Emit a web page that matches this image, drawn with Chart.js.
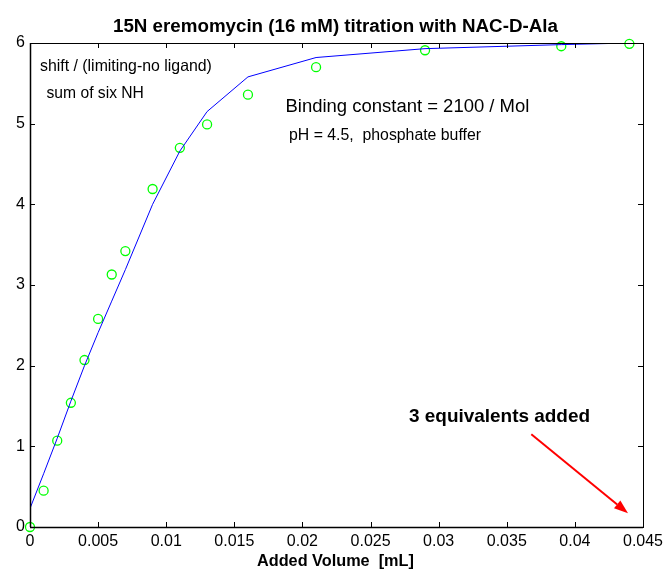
<!DOCTYPE html>
<html>
<head>
<meta charset="utf-8">
<script src="https://cdn.jsdelivr.net/npm/chart.js@4.4.0/dist/chart.umd.min.js"></script>
<style>
  body { margin: 0; background: #fff; }
  #wrap { width: 665px; height: 569px; }
</style>
</head>
<body>
<div id="wrap"><canvas id="titration"></canvas></div>
<script>
// measured points (added volume in mL vs normalised shift)
const volumes = [0, 0.001, 0.002, 0.003, 0.004, 0.005, 0.006, 0.007, 0.009, 0.011, 0.013, 0.016, 0.021, 0.029, 0.039, 0.044];
const measured = [0, 0.45, 1.07, 1.54, 2.07, 2.58, 3.13, 3.42, 4.19, 4.70, 4.99, 5.36, 5.70, 5.91, 5.96, 5.99];
// fitted binding curve
const fitted = [0.23, 0.66, 1.10, 1.56, 2.00, 2.41, 2.80, 3.19, 4.00, 4.66, 5.15, 5.58, 5.82, 5.93, 5.98, 6.00];
const xTicks = [0, 0.005, 0.01, 0.015, 0.02, 0.025, 0.03, 0.035, 0.04, 0.045];
const yTicks = [0, 1, 2, 3, 4, 5, 6];
// arrow pointing at the 3-equivalent point (data coords)
const arrowFrom = { x: 0.0368, y: 1.15 };
const arrowTo = { x: 0.0439, y: 0.17 };

const FONT = "'Liberation Sans', Arial, Helvetica, sans-serif";

function fitText(ctx, text, left, baseline, width, bold) {
  ctx.font = (bold ? 'bold ' : '') + '20px ' + FONT;
  const w = ctx.measureText(text).width;
  const size = 20 * width / w;
  ctx.font = (bold ? 'bold ' : '') + size.toFixed(2) + 'px ' + FONT;
  ctx.textAlign = 'left';
  ctx.textBaseline = 'alphabetic';
  ctx.fillText(text, left, baseline);
}

const decorations = {
  id: 'decorations',
  afterDraw(chart) {
    const ctx = chart.ctx;
    const a = chart.chartArea;
    const xs = chart.scales.x, ys = chart.scales.y;
    ctx.save();
    // box
    ctx.strokeStyle = '#000';
    ctx.lineWidth = 1;
    ctx.strokeRect(a.left + 0.5, a.top + 0.5, a.right - a.left, a.bottom - a.top);
    // inward ticks on all sides
    ctx.beginPath();
    xTicks.forEach(v => {
      const px = Math.round(xs.getPixelForValue(v)) + 0.5;
      ctx.moveTo(px, a.bottom); ctx.lineTo(px, a.bottom - 5);
      ctx.moveTo(px, a.top); ctx.lineTo(px, a.top + 5);
    });
    yTicks.forEach(v => {
      const py = Math.round(ys.getPixelForValue(v)) + 0.5;
      ctx.moveTo(a.left, py); ctx.lineTo(a.left + 5, py);
      ctx.moveTo(a.right, py); ctx.lineTo(a.right - 5, py);
    });
    ctx.stroke();
    // bottom and left axes a little heavier
    ctx.lineWidth = 1.5;
    ctx.beginPath();
    ctx.moveTo(a.left, a.bottom + 0.5); ctx.lineTo(a.right, a.bottom + 0.5);
    ctx.moveTo(a.left + 0.5, a.top); ctx.lineTo(a.left + 0.5, a.bottom);
    ctx.stroke();

    ctx.fillStyle = '#000';
    fitText(ctx, '15N eremomycin (16 mM) titration with NAC-D-Ala', 113, 32, 445, true);
    fitText(ctx, 'Added Volume  [mL]', 257, 566, 157, true);
    fitText(ctx, 'shift / (limiting-no ligand)', 40, 71, 172, false);
    fitText(ctx, 'sum of six NH', 46.5, 97.5, 97.5, false);
    fitText(ctx, 'Binding constant = 2100 / Mol', 285.5, 112, 244, false);
    fitText(ctx, 'pH = 4.5,  phosphate buffer', 289, 140, 192, false);
    fitText(ctx, '3 equivalents added', 409, 421.5, 181, true);

    // red arrow
    const x1 = xs.getPixelForValue(arrowFrom.x), y1 = ys.getPixelForValue(arrowFrom.y);
    const x2 = xs.getPixelForValue(arrowTo.x), y2 = ys.getPixelForValue(arrowTo.y);
    const ang = Math.atan2(y2 - y1, x2 - x1);
    const hl = 14, hw = 5;
    ctx.strokeStyle = '#ff0000';
    ctx.fillStyle = '#ff0000';
    ctx.lineWidth = 2;
    ctx.beginPath();
    ctx.moveTo(x1, y1);
    ctx.lineTo(x2 - Math.cos(ang) * hl, y2 - Math.sin(ang) * hl);
    ctx.stroke();
    ctx.beginPath();
    ctx.moveTo(x2, y2);
    ctx.lineTo(x2 - Math.cos(ang) * hl - Math.sin(ang) * hw, y2 - Math.sin(ang) * hl + Math.cos(ang) * hw);
    ctx.lineTo(x2 - Math.cos(ang) * hl + Math.sin(ang) * hw, y2 - Math.sin(ang) * hl - Math.cos(ang) * hw);
    ctx.closePath();
    ctx.fill();
    ctx.restore();
  }
};

new Chart(document.getElementById('titration'), {
  type: 'scatter',
  data: {
    datasets: [
      {
        label: 'fit',
        type: 'line',
        data: volumes.map((v, i) => ({ x: v, y: fitted[i] })),
        borderColor: '#0000ff',
        borderWidth: 1,
        pointRadius: 0,
        tension: 0,
        fill: false
      },
      {
        label: 'measured',
        data: volumes.map((v, i) => ({ x: v, y: measured[i] })),
        borderColor: '#00ff00',
        backgroundColor: 'rgba(0,0,0,0)',
        borderWidth: 1.3,
        pointRadius: 4.5,
        clip: false
      }
    ]
  },
  options: {
    responsive: true,
    maintainAspectRatio: false,
    animation: false,
    layout: { padding: { top: 43, right: 22, left: 0, bottom: 0 } },
    plugins: {
      legend: { display: false },
      tooltip: { enabled: false }
    },
    scales: {
      x: {
        type: 'linear',
        min: 0,
        max: 0.045,
        afterFit(s) { s.height = 42; s.paddingLeft = 0; s.paddingRight = 0; },
        afterBuildTicks(s) { s.ticks = xTicks.map(v => ({ value: v })); },
        grid: { display: false, drawTicks: false, tickLength: 0 },
        border: { display: false },
        ticks: {
          color: '#000',
          padding: 5,
          maxRotation: 0,
          autoSkip: false,
          font: { family: FONT, size: 16 },
          callback: v => String(+v.toFixed(3))
        }
      },
      y: {
        min: 0,
        max: 6,
        afterFit(s) { s.width = 30; s.paddingTop = 0; s.paddingBottom = 0; },
        afterBuildTicks(s) { s.ticks = yTicks.map(v => ({ value: v })); },
        grid: { display: false, drawTicks: false, tickLength: 0 },
        border: { display: false },
        ticks: {
          color: '#000',
          padding: 5,
          font: { family: FONT, size: 16 },
          callback: v => String(v)
        }
      }
    }
  },
  plugins: [decorations]
});
</script>
</body>
</html>
